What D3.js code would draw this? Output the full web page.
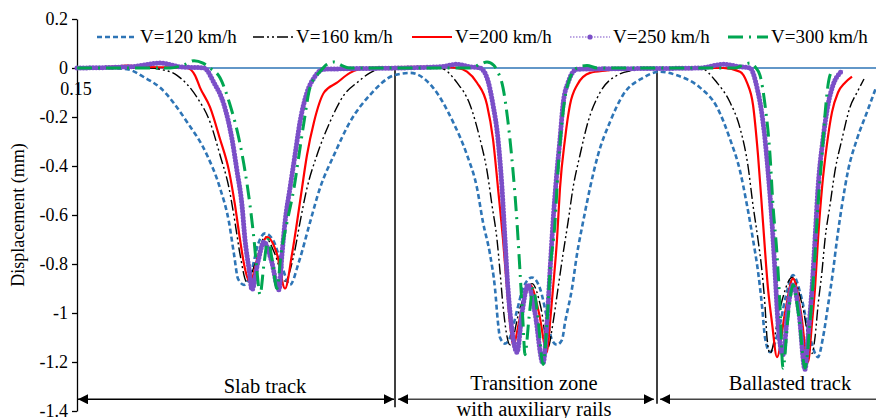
<!DOCTYPE html>
<html>
<head>
<meta charset="utf-8">
<script src="https://cdn.jsdelivr.net/npm/d3@7"></script>
<style>
html,body{margin:0;padding:0;background:#fff;}
svg{display:block;font-family:"Liberation Serif","Times New Roman",serif;}
</style>
</head>
<body>
<svg id="chart" width="876" height="418"></svg>
<script>
// ---- data (x = position along track, arbitrary units; y = displacement in mm) ----
const seriesNames = ["V=120 km/h","V=160 km/h","V=200 km/h","V=250 km/h","V=300 km/h"];
const yTicks = [0.2,0,-0.2,-0.4,-0.6,-0.8,-1,-1.2,-1.4];
const segmentBounds = [0, 318, 580, 800];
const segmentLabels = [["Slab track"],["Transition zone","with auxiliary rails"],["Ballasted track"]];

const v120 = [[0,0],[33,0],[50,-0.005],[68,-0.04],[83,-0.08],[110,-0.22],[130,-0.355],[143,-0.49],[152,-0.63],[157,-0.76],[161,-0.86],[167,-0.885],[175,-0.82],[181,-0.72],[188,-0.675],[197,-0.71],[205,-0.81],[213,-0.885],[222,-0.79],[233,-0.63],[243,-0.49],[257,-0.355],[273,-0.22],[293,-0.11],[317,-0.03],[333,-0.02],[356,-0.08],[376,-0.22],[390,-0.355],[400,-0.49],[406,-0.63],[413,-0.76],[418,-0.90],[421,-1.04],[423,-1.10],[428,-1.125],[433,-1.10],[440,-0.99],[446,-0.90],[455,-0.855],[463,-0.90],[471,-1.04],[475,-1.11],[480,-1.13],[485,-1.11],[488,-1.04],[495,-0.90],[500,-0.76],[506,-0.63],[513,-0.49],[521,-0.355],[533,-0.22],[546,-0.11],[566,-0.04],[583,-0.015],[600,-0.03],[623,-0.08],[640,-0.16],[653,-0.29],[663,-0.42],[670,-0.56],[676,-0.70],[681,-0.83],[685,-0.97],[688,-1.10],[693,-1.16],[701,-1.08],[709,-0.93],[716,-0.845],[724,-0.93],[733,-1.10],[741,-1.18],[746,-1.10],[751,-0.97],[756,-0.83],[760,-0.70],[765,-0.56],[771,-0.42],[780,-0.29],[790,-0.18],[799,-0.08]];
const v160 = [[0,0],[73,0],[83,-0.005],[100,-0.03],[120,-0.12],[133,-0.22],[143,-0.355],[152,-0.49],[158,-0.63],[163,-0.76],[170,-0.875],[178,-0.80],[188,-0.69],[198,-0.76],[208,-0.87],[217,-0.76],[223,-0.63],[230,-0.49],[240,-0.355],[253,-0.22],[267,-0.11],[280,-0.06],[293,-0.02],[307,0],[363,0],[380,-0.06],[393,-0.15],[403,-0.29],[410,-0.42],[415,-0.56],[420,-0.70],[423,-0.83],[426,-0.97],[433,-1.13],[443,-0.98],[455,-0.88],[464,-0.98],[471,-1.14],[476,-1.04],[481,-0.90],[486,-0.76],[491,-0.63],[496,-0.49],[503,-0.355],[511,-0.22],[523,-0.10],[540,-0.03],[556,-0.01],[573,0],[623,0],[640,-0.06],[653,-0.14],[663,-0.245],[671,-0.40],[676,-0.56],[681,-0.70],[685,-0.83],[688,-0.97],[690,-1.10],[693,-1.165],[703,-0.98],[715,-0.855],[726,-0.98],[735,-1.165],[738,-1.10],[741,-0.97],[745,-0.83],[748,-0.70],[753,-0.56],[758,-0.42],[765,-0.29],[773,-0.16],[780,-0.10],[787,-0.045]];
const v200 = [[0,0],[33,0.005],[50,0.01],[68,0.005],[110,0],[118,-0.03],[123,-0.08],[133,-0.16],[143,-0.29],[152,-0.42],[158,-0.56],[163,-0.70],[168,-0.82],[173,-0.875],[181,-0.77],[190,-0.69],[200,-0.76],[208,-0.90],[215,-0.76],[220,-0.63],[225,-0.49],[230,-0.355],[237,-0.22],[247,-0.10],[260,-0.06],[273,-0.02],[290,0],[343,0.005],[363,0.005],[380,0],[390,-0.015],[400,-0.06],[410,-0.15],[416,-0.29],[421,-0.49],[426,-0.70],[430,-0.90],[433,-1.04],[436,-1.13],[444,-1.00],[453,-0.885],[462,-1.00],[470,-1.16],[473,-1.04],[476,-0.90],[480,-0.70],[483,-0.49],[488,-0.29],[493,-0.15],[500,-0.07],[513,-0.02],[530,-0.01],[553,0],[646,0],[663,-0.015],[670,-0.06],[676,-0.15],[681,-0.355],[686,-0.63],[691,-0.90],[695,-1.04],[700,-1.18],[708,-1.00],[716,-0.86],[724,-1.00],[731,-1.20],[735,-1.04],[738,-0.90],[741,-0.70],[745,-0.49],[750,-0.31],[755,-0.18],[761,-0.10],[768,-0.06],[775,-0.035]];
const v250 = [[0,0],[53,0.005],[83,0.02],[103,0.005],[127,0],[137,-0.06],[147,-0.15],[155,-0.29],[160,-0.42],[165,-0.56],[168,-0.70],[172,-0.82],[175,-0.905],[181,-0.79],[187,-0.71],[194,-0.78],[202,-0.905],[205,-0.76],[208,-0.63],[213,-0.49],[218,-0.355],[223,-0.22],[230,-0.10],[237,-0.04],[247,-0.005],[323,0],[363,0.005],[380,0.015],[393,0.005],[403,0],[410,-0.04],[416,-0.15],[421,-0.29],[425,-0.49],[428,-0.70],[431,-0.90],[435,-1.07],[440,-1.16],[445,-1.00],[451,-0.885],[458,-1.00],[466,-1.205],[470,-1.04],[473,-0.83],[476,-0.63],[480,-0.42],[483,-0.29],[486,-0.15],[491,-0.06],[500,-0.005],[623,0],[646,0.015],[663,0.005],[673,0],[680,-0.08],[686,-0.22],[691,-0.42],[695,-0.63],[698,-0.83],[701,-1.04],[706,-1.17],[711,-0.98],[716,-0.885],[722,-1.00],[728,-1.23],[731,-1.10],[735,-0.90],[738,-0.70],[741,-0.49],[746,-0.29],[751,-0.15],[756,-0.07],[763,-0.02],[766,-0.01]];
const v300 = [[0,0],[93,0],[108,0.015],[117,0.03],[126,0.02],[133,0],[143,-0.04],[153,-0.15],[162,-0.29],[168,-0.42],[173,-0.56],[177,-0.70],[180,-0.83],[183,-0.925],[187,-0.80],[191,-0.70],[195,-0.78],[200,-0.90],[204,-0.76],[210,-0.63],[217,-0.49],[222,-0.355],[227,-0.22],[233,-0.08],[243,-0.015],[250,0.015],[257,0.025],[265,0.01],[273,0],[393,0],[403,0.015],[410,0.025],[417,0.01],[420,-0.01],[426,-0.08],[431,-0.22],[436,-0.42],[440,-0.63],[443,-0.83],[446,-1.04],[448,-1.17],[452,-1.02],[456,-0.90],[461,-1.02],[466,-1.21],[470,-1.04],[473,-0.83],[478,-0.63],[481,-0.42],[485,-0.22],[490,-0.08],[500,0],[510,0.01],[520,0],[658,0],[665,0.01],[673,0.02],[678,0.005],[683,-0.03],[688,-0.15],[693,-0.355],[696,-0.56],[700,-0.76],[703,-0.97],[706,-1.225],[711,-1.02],[716,-0.885],[722,-1.02],[728,-1.225],[733,-1.04],[738,-0.76],[741,-0.56],[745,-0.355],[748,-0.19],[751,-0.07],[755,-0.01]];

// ---- layout ----
const svg = d3.select("#chart");
const W = 876, H = 418;
const m = {left:77, right:-1, top:19, bottom:7};
const x = d3.scaleLinear().domain([0,800]).range([m.left, W - m.right]);
const y = d3.scaleLinear().domain([-1.4,0.2]).range([H - m.bottom, m.top]);

svg.append("rect").attr("width",W).attr("height",H).attr("fill","#fff");

// zero line
svg.append("line").attr("x1",x(0)).attr("x2",x(800)).attr("y1",y(0)).attr("y2",y(0))
  .attr("stroke","#2e75b6").attr("stroke-width",1.6);

// segment dividers
svg.selectAll("line.div").data(segmentBounds.slice(1,3)).enter().append("line")
  .attr("class","div")
  .attr("x1",d=>x(d)).attr("x2",d=>x(d))
  .attr("y1",y(0)).attr("y2",(d,i)=> i===0 ? y(-1.385) : y(-1.37))
  .attr("stroke","#000").attr("stroke-width",1.5);

// Y axis
const yAxis = d3.axisLeft(y).tickValues(yTicks).tickSize(5).tickSizeOuter(0).tickPadding(4)
  .tickFormat(d => String(+d.toFixed(1)));
const ga = svg.append("g").attr("transform",`translate(${m.left},0)`).call(yAxis);
ga.select(".domain").attr("stroke","#000").attr("stroke-width",1.3);
ga.selectAll(".tick line").attr("stroke","#000").attr("stroke-width",1.3);
ga.selectAll(".tick text").attr("font-family","Liberation Serif").attr("font-size",18).attr("fill","#000");

// stray label
svg.append("text").attr("x",x(0)-1).attr("y",y(-0.112)).attr("text-anchor","middle")
  .attr("font-size",18).attr("fill","#000").text("0.15");

// axis title
svg.append("text").attr("transform",`translate(24,${(y(0.2)+y(-1.4))/2}) rotate(-90)`)
  .attr("text-anchor","middle").attr("font-size",18).attr("fill","#000").text("Displacement (mm)");

// series
const line = d3.line().x(d=>x(d[0])).y(d=>y(d[1])).curve(d3.curveMonotoneX);
const styles = [
  {data:v120, color:"#2e75b6", width:2.6, dash:"5,3"},
  {data:v160, color:"#000000", width:1.4, dash:"11,3,2,3,2,3"},
  {data:v200, color:"#ff0000", width:2.2, dash:null},
  {data:v250, color:"#7b4fc8", width:1.2, dash:"1.5,1.5", beads:true},
  {data:v300, color:"#00a651", width:3, dash:"15,6,2,6"}
];
const gs = svg.append("g");
styles.forEach(s => {
  if (s.beads) {
    gs.append("path").attr("d",line(s.data)).attr("fill","none")
      .attr("stroke",s.color).attr("stroke-width",5).attr("stroke-linecap","round")
      .attr("stroke-dasharray","0,3.2");
  }
  const p = gs.append("path").attr("d",line(s.data)).attr("fill","none")
    .attr("stroke",s.color).attr("stroke-width",s.width).attr("stroke-linejoin","round");
  if (s.dash) p.attr("stroke-dasharray",s.dash);
});

// legend
const legX = [97, 253, 412, 570, 728];
const lg = svg.append("g");
styles.forEach((s,i) => {
  const x0 = legX[i], yy = 37;
  const l = lg.append("line").attr("x1",x0).attr("x2",x0+40).attr("y1",yy).attr("y2",yy)
    .attr("stroke",s.color).attr("stroke-width", s.beads ? 1.2 : s.width);
  if (s.dash) l.attr("stroke-dasharray",s.dash);
  if (s.beads) lg.append("circle").attr("cx",x0+20).attr("cy",yy).attr("r",2.6).attr("fill",s.color);
  lg.append("text").attr("x",x0+43).attr("y",yy+6).attr("font-size",19).attr("fill","#000").text(seriesNames[i]);
});

// segment arrows & labels
const defs = svg.append("defs");
defs.append("marker").attr("id","ahE").attr("viewBox","0 0 10 10").attr("refX",10).attr("refY",5)
  .attr("markerWidth",10).attr("markerHeight",10).attr("markerUnits","userSpaceOnUse").attr("orient","auto")
  .append("path").attr("d","M0,0L10,5L0,10Z").attr("fill","#000");
defs.append("marker").attr("id","ahS").attr("viewBox","0 0 10 10").attr("refX",0).attr("refY",5)
  .attr("markerWidth",10).attr("markerHeight",10).attr("markerUnits","userSpaceOnUse").attr("orient","auto")
  .append("path").attr("d","M10,0L0,5L10,10Z").attr("fill","#000");

const arrowY = -1.352;
const arrows = [[0,318,true,true],[320,578,true,true],[582,800,true,false]];
arrows.forEach((a,i) => {
  const l = svg.append("line").attr("x1",x(a[0])+1).attr("x2",x(a[1])-1)
    .attr("y1",y(arrowY)).attr("y2",y(arrowY)).attr("stroke", i===0 ? "#000" : "#444").attr("stroke-width",1.4);
  if (a[2]) l.attr("marker-start","url(#ahS)");
  if (a[3]) l.attr("marker-end","url(#ahE)");
});
const labelCenters = [188, 457, 713];
segmentLabels.forEach((lines,i) => {
  lines.forEach((t,j) => {
    svg.append("text").attr("x",x(labelCenters[i])).attr("y", (i===0 ? y(-1.328) : y(-1.316)) + j*26)
      .attr("text-anchor","middle").attr("font-size",20.5).attr("fill","#000").text(t);
  });
});
</script>
</body>
</html>
